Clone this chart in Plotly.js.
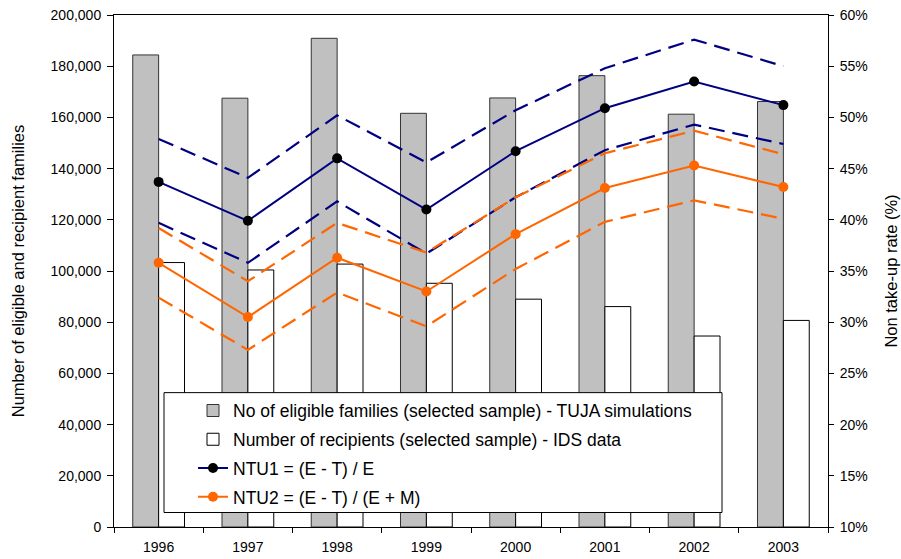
<!DOCTYPE html>
<html>
<head>
<meta charset="utf-8">
<script src="https://cdn.plot.ly/plotly-3.0.1.min.js"></script>
<style>html,body{margin:0;padding:0;background:#fff;}#chart{width:901px;height:559px;}</style>
</head>
<body>
<div id="chart"></div>
<script>
var years = ['1996','1997','1998','1999','2000','2001','2002','2003'];
var eligible = [184400, 167500, 190900, 161600, 167600, 176300, 161250, 166200];
var recipients = [103300, 100400, 102700, 95200, 89000, 86100, 74600, 80700];
var ntu1 = [43.7, 39.9, 46.0, 41.0, 46.7, 50.9, 53.5, 51.2];
var ntu1Upper = [47.9, 44.1, 50.2, 45.6, 50.7, 54.8, 57.6, 55.0];
var ntu1Lower = [39.7, 35.8, 41.8, 36.7, 42.2, 46.8, 49.3, 47.4];
var ntu2 = [35.8, 30.5, 36.3, 33.0, 38.6, 43.1, 45.3, 43.2];
var ntu2Upper = [39.2, 34.0, 39.7, 36.8, 42.2, 46.5, 48.7, 46.4];
var ntu2Lower = [32.4, 27.3, 32.9, 29.6, 35.2, 39.8, 41.9, 40.1];
var leftTicks = [0,20000,40000,60000,80000,100000,120000,140000,160000,180000,200000];
var rightTicks = [10,15,20,25,30,35,40,45,50,55,60];
var rightTickLabels = ['10%','15%','20%','25%','30%','35%','40%','45%','50%','55%','60%'];

var navy = '#000080', orange = '#FF6600';
var dashStyle = '16px,8px';
var fam = "'Liberation Sans', Arial, sans-serif";

var traces = [
  {type:'bar', x:years, y:eligible, name:'No of eligible families (selected sample) - TUJA simulations',
   marker:{color:'#C0C0C0', line:{color:'#333333', width:1}}, legendgroup:'a'},
  {type:'bar', x:years, y:recipients, name:'Number of recipients (selected sample) - IDS data',
   marker:{color:'#FFFFFF', line:{color:'#000000', width:1}}, legendgroup:'b'},
  {type:'scatter', mode:'lines', x:years, y:ntu1Upper, yaxis:'y2', showlegend:false,
   line:{color:navy, width:2.2, dash:dashStyle}, hoverinfo:'skip'},
  {type:'scatter', mode:'lines', x:years, y:ntu1Lower, yaxis:'y2', showlegend:false,
   line:{color:navy, width:2.2, dash:dashStyle}, hoverinfo:'skip'},
  {type:'scatter', mode:'lines', x:years, y:ntu2Upper, yaxis:'y2', showlegend:false,
   line:{color:orange, width:2.2, dash:dashStyle}, hoverinfo:'skip'},
  {type:'scatter', mode:'lines', x:years, y:ntu2Lower, yaxis:'y2', showlegend:false,
   line:{color:orange, width:2.2, dash:dashStyle}, hoverinfo:'skip'},
  {type:'scatter', mode:'lines+markers', x:years, y:ntu1, yaxis:'y2', name:'NTU1 = (E - T) / E',
   line:{color:navy, width:2}, marker:{color:'#000000', size:10}, legendgroup:'c'},
  {type:'scatter', mode:'lines+markers', x:years, y:ntu2, yaxis:'y2', name:'NTU2 = (E - T) / (E + M)',
   line:{color:orange, width:2}, marker:{color:orange, size:10}, legendgroup:'d'}
];

var axisFont = {family:fam, size:14, color:'#000'};
var layout = {
  width:901, height:559,
  margin:{l:114, r:73, t:15, b:32},
  paper_bgcolor:'#fff', plot_bgcolor:'#fff',
  barmode:'group', bargap:0.42, bargroupgap:0,
  font:axisFont,
  showlegend:true,
  xaxis:{type:'category', showline:true, linecolor:'#000', linewidth:1, mirror:true,
    ticks:'outside', tickson:'boundaries', ticklen:5, tickcolor:'#000', ticklabelstandoff:7,
    showgrid:false, zeroline:false, tickfont:axisFont},
  yaxis:{range:[0,200000], tickvals:leftTicks, tickformat:',', showline:true, linecolor:'#000', linewidth:1,
    ticks:'outside', ticklen:6, tickcolor:'#000', showgrid:false, zeroline:false, tickfont:axisFont, ticklabelstandoff:3,
    title:{text:'Number of eligible and recipient families', font:{family:fam, size:16.5, color:'#000'}, standoff:21}},
  yaxis2:{range:[10,60], overlaying:'y', side:'right', tickvals:rightTicks, ticktext:rightTickLabels,
    showline:true, linecolor:'#000', linewidth:1, ticks:'outside', ticklen:5, tickcolor:'#000', ticklabelstandoff:3,
    showgrid:false, zeroline:false, tickfont:axisFont,
    title:{text:'Non take-up rate (%)', font:{family:fam, size:16.5, color:'#000'}, standoff:18}},
  shapes:[{type:'rect', xref:'paper', yref:'paper', x0:(164-114)/714, x1:(722-114)/714,
    y0:(527.5-513)/512.5, y1:(527.5-393)/512.5, fillcolor:'#fff', line:{color:'#000', width:1}, layer:'above'}],
  legend:{x:(193-114)/714, y:(527.5-393)/512.5, xanchor:'left', yanchor:'top', bgcolor:'rgba(0,0,0,0)', borderwidth:0,
    font:{family:fam, size:17.5, color:'#000'},
    traceorder:'grouped', tracegroupgap:3, itemwidth:30}
};
Plotly.newPlot('chart', traces, layout, {displayModeBar:false, staticPlot:true});
</script>
</body>
</html>
